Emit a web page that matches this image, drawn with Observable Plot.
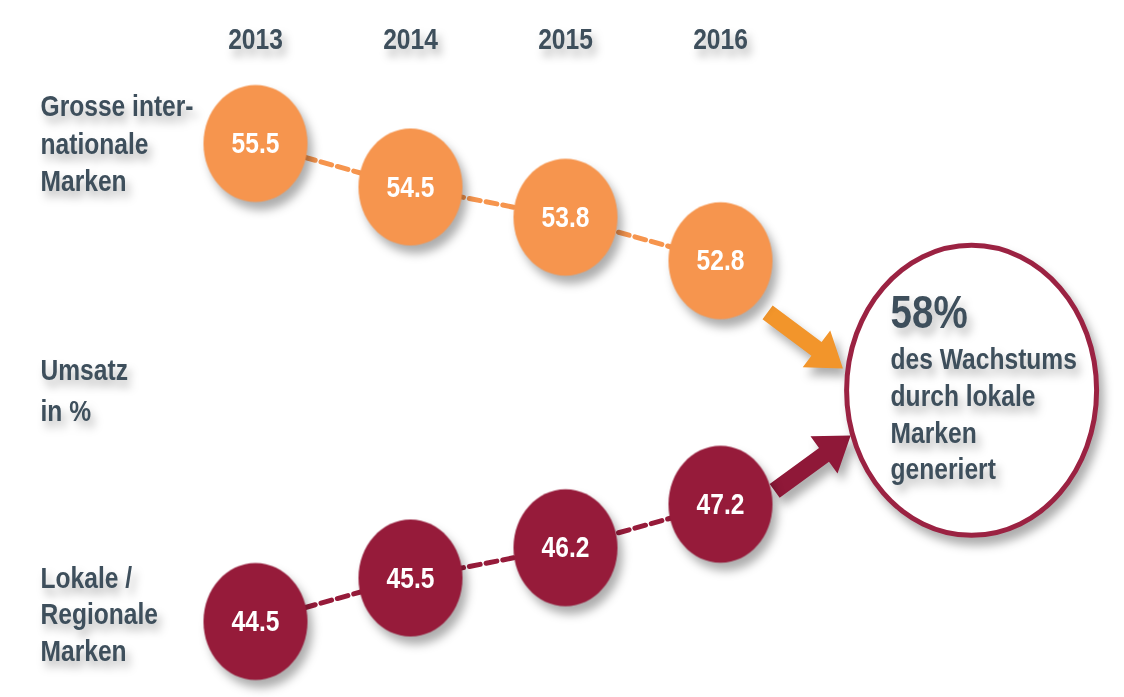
<!DOCTYPE html>
<html><head><meta charset="utf-8">
<script src="https://cdn.jsdelivr.net/npm/d3@7"></script>
<script src="https://cdn.jsdelivr.net/npm/@observablehq/plot@0.6"></script>
<style>
body{margin:0;background:#fff;}
#chart svg{display:block;}
</style></head><body><div id="chart"></div>
<script>
// ---- data ----
const years = [2013, 2014, 2015, 2016];
const intlValues = [55.5, 54.5, 53.8, 52.8];
const localValues = [44.5, 45.5, 46.2, 47.2];
const seriesLabels = ["Grosse inter-\nnationale\nMarken", "Lokale /\nRegionale\nMarken"];
const axisTitle = "Umsatz\nin %";
const calloutValue = "58%";
const calloutText = "des Wachstums\ndurch lokale\nMarken\ngeneriert";
// annotation anchors (data space)
const calloutX = [2017.62];
const calloutY = [49.82];
const arrowTipX = [2016.79, 2016.84];
const arrowTipY = [50.32, 48.78];
const arrowAngle = [126.7, 54];

// ---- styles ----
const orange = "#F6954E", maroon = "#961B3A", ink = "#3E4F5C";
const arrowColors = ["#F2952B", "#8F1838"];
const font = "'Liberation Sans',Arial,sans-serif";

const intl = years.map((year, i) => ({year, value: intlValues[i]}));
const local = years.map((year, i) => ({year, value: localValues[i]}));
const arrows = arrowTipX.map((x, i) => ({x, y: arrowTipY[i], angle: arrowAngle[i], color: arrowColors[i]}));

function ellipse(k) {
  return {draw(ctx, size) {
    const rx = Math.sqrt(size / Math.PI), ry = rx * k, c = 0.5523;
    ctx.moveTo(rx, 0);
    ctx.bezierCurveTo(rx, ry * c, rx * c, ry, 0, ry);
    ctx.bezierCurveTo(-rx * c, ry, -rx, ry * c, -rx, 0);
    ctx.bezierCurveTo(-rx, -ry * c, -rx * c, -ry, 0, -ry);
    ctx.bezierCurveTo(rx * c, -ry, rx, -ry * c, rx, 0);
    ctx.closePath();
  }};
}
const arrowShape = {draw(ctx, size) {
  const L = Math.sqrt(size / Math.PI), hl = 33, hw = 23, sw = 8.5;
  ctx.moveTo(0, 0); ctx.lineTo(hw, hl); ctx.lineTo(sw, hl); ctx.lineTo(sw, L);
  ctx.lineTo(-sw, L); ctx.lineTo(-sw, hl); ctx.lineTo(-hw, hl); ctx.closePath();
}};

const circ = ellipse(1.125);
const chart = Plot.plot({
  width: 1124, height: 697,
  marginLeft: 255, marginRight: 404, marginTop: 143, marginBottom: 76,
  style: {fontFamily: font, fontWeight: "bold", background: "white"},
  x: {domain: [2013, 2016], label: null},
  y: {domain: [44.5, 55.5], axis: null},
  marks: [
    Plot.axisX({anchor: "top", ticks: years, tickFormat: d => String(d), tickSize: 0, tickPadding: 95, fontSize: 30, fill: ink, label: null}),
    Plot.line(intl, {x: "year", y: "value", stroke: orange, strokeWidth: 5, strokeDasharray: "11,6"}),
    Plot.line(local, {x: "year", y: "value", stroke: maroon, strokeWidth: 5, strokeDasharray: "11,6"}),
    Plot.dot(arrows, {x: "x", y: "y", symbol: arrowShape, r: 94, rotate: "angle", fill: d => d.color, stroke: null}),
    Plot.dot(calloutX, {x: d => d, y: (d, i) => calloutY[i], symbol: ellipse(1.16), r: 125, fill: "white", stroke: "#9B2242", strokeWidth: 5}),
    Plot.dot(intl, {x: "year", y: "value", symbol: circ, r: 52, fill: orange, stroke: null}),
    Plot.dot(local, {x: "year", y: "value", symbol: circ, r: 52, fill: maroon, stroke: null}),
    Plot.text(intl, {x: "year", y: "value", text: d => d.value.toFixed(1), fill: "white", fontSize: 30}),
    Plot.text(local, {x: "year", y: "value", text: d => d.value.toFixed(1), fill: "white", fontSize: 30}),
    Plot.text([seriesLabels[0]], {x: () => years[0], y: () => intlValues[0], text: d => d, dx: -215, dy: -2, textAnchor: "start", fontSize: 30, lineHeight: 1.25, fill: ink}),
    Plot.text([seriesLabels[1]], {x: () => years[0], y: () => localValues[0], text: d => d, dx: -215, dy: -9, textAnchor: "start", fontSize: 30, lineHeight: 1.22, fill: ink}),
    Plot.text([axisTitle], {frameAnchor: "left", text: d => d, dx: -215, dy: 5, textAnchor: "start", fontSize: 30, lineHeight: 1.38, fill: ink}),
    Plot.text([calloutValue], {x: () => calloutX[0], y: () => calloutY[0], text: d => d, dx: -81, dy: -77, textAnchor: "start", fontSize: 47, fill: ink}),
    Plot.text([calloutText], {x: () => calloutX[0], y: () => calloutY[0], text: d => d, dx: -81, dy: 22, textAnchor: "start", fontSize: 30, lineHeight: 1.23, fill: ink})
  ]
});
document.getElementById("chart").append(chart);
const svg = d3.select(chart);
// narrow the bold sans to mimic a condensed face
svg.selectAll("text").attr("transform", function() {
  const t = this.getAttribute("transform");
  return (t ? t + " " : "") + "scale(0.82,1)";
});
svg.selectAll("g[aria-label='dot']").style("filter", "drop-shadow(5px 8px 5px rgba(0,0,0,0.32))");
svg.selectAll("g[aria-label='text'], g[aria-label='x-axis tick label']")
  .filter(function() { return this.getAttribute("fill") !== "white"; })
  .style("filter", "drop-shadow(4px 7px 4px rgba(0,0,0,0.28))");
</script></body></html>
